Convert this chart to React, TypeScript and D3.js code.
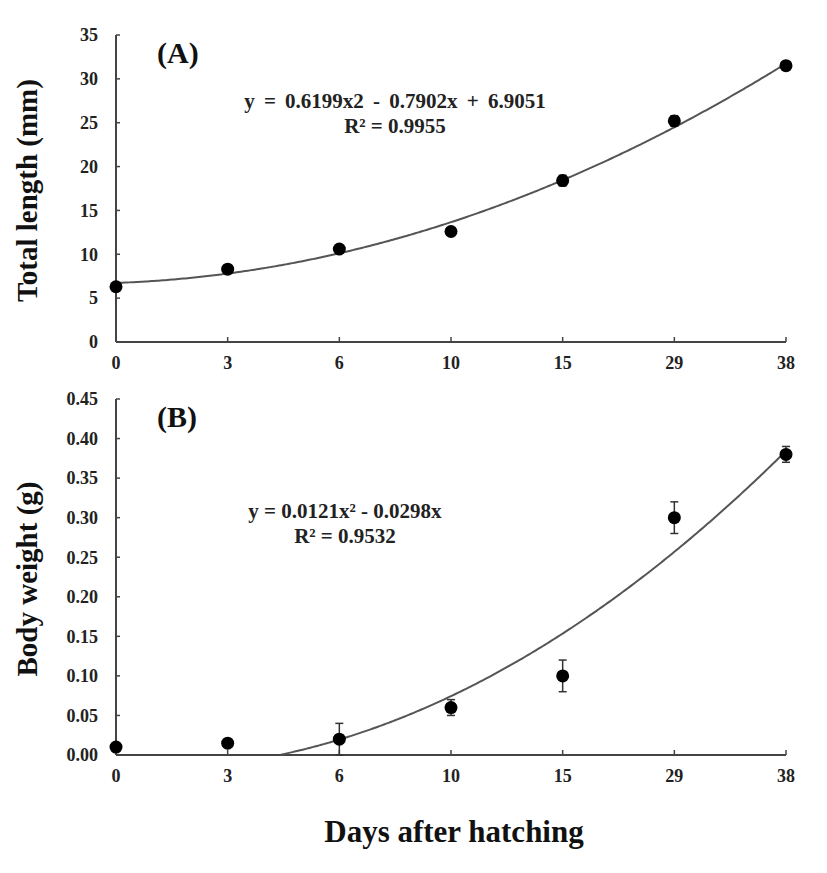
import React from "react";
import * as d3 from "d3";

const days = ["0", "3", "6", "10", "15", "29", "38"];
const lengthMean = [6.3, 8.3, 10.6, 12.6, 18.4, 25.2, 31.5];
const lengthErr = [0.2, 0.2, 0.3, 0.3, 0.6, 0.6, 0.3];
const weightMean = [0.01, 0.015, 0.02, 0.06, 0.1, 0.3, 0.38];
const weightErr = [0.002, 0.003, 0.02, 0.01, 0.02, 0.02, 0.01];
const lengthTicks = [0, 5, 10, 15, 20, 25, 30, 35];
const weightTicks = [0, 0.05, 0.1, 0.15, 0.2, 0.25, 0.3, 0.35, 0.4, 0.45];
const lengthFit = [0.6199, -0.7902, 6.9051];
const weightFit = [0.0121, -0.0298, 0];

const FONT = "'Liberation Serif', 'Times New Roman', serif";
const AXIS = "#444";

type PanelProps = {
  top: number;
  bottom: number;
  ymax: number;
  ticks: number[];
  fmt: (v: number) => string;
  means: number[];
  errs: number[];
  fit: number[];
  label: string;
  title: string;
  eq: string;
  r2: string;
  eqX: number;
  eqY: number;
  eqSpacing: number;
};

const X0 = 116;
const X1 = 786;

function Panel(p: PanelProps) {
  const x = d3.scalePoint<string>().domain(days).range([X0, X1]);
  const xi = d3.scaleLinear().domain([1, days.length]).range([X0, X1]);
  const y = d3.scaleLinear().domain([0, p.ymax]).range([p.bottom, p.top]);
  const f = (t: number) => p.fit[0] * t * t + p.fit[1] * t + p.fit[2];
  const pts = d3
    .range(1, days.length + 0.0001, 0.02)
    .map((t) => [t, f(t)] as [number, number])
    .filter((d) => d[1] >= 0);
  const line = d3
    .line<[number, number]>()
    .x((d) => xi(d[0]))
    .y((d) => y(d[1]));
  return (
    <g>
      <line x1={X0} x2={X0} y1={p.top} y2={p.bottom} stroke={AXIS} strokeWidth={2} />
      <line x1={X0} x2={X1} y1={p.bottom} y2={p.bottom} stroke={AXIS} strokeWidth={2} />
      {p.ticks.map((t) => (
        <g key={t}>
          <line x1={X0} x2={X0 + 4} y1={y(t)} y2={y(t)} stroke={AXIS} strokeWidth={1.5} />
          <text x={98} y={y(t)} dy="0.35em" textAnchor="end" fontFamily={FONT} fontWeight="bold" fontSize={18} fill="#222">
            {p.fmt(t)}
          </text>
        </g>
      ))}
      {days.map((d) => (
        <g key={d}>
          <line x1={x(d)} x2={x(d)} y1={p.bottom} y2={p.bottom - 5} stroke={AXIS} strokeWidth={1.5} />
          <text x={x(d)} y={p.bottom + 27} textAnchor="middle" fontFamily={FONT} fontWeight="bold" fontSize={18} fill="#222">
            {d}
          </text>
        </g>
      ))}
      <text
        transform={`translate(37,${(p.top + p.bottom) / 2 + 2}) rotate(-90)`}
        textAnchor="middle"
        fontFamily={FONT}
        fontWeight="bold"
        fontSize={29}
        fill="#111"
      >
        {p.title}
      </text>
      <text x={157} y={p.top + 28} fontFamily={FONT} fontWeight="bold" fontSize={30} fill="#111">
        {p.label}
      </text>
      <path d={line(pts) || ""} fill="none" stroke="#555" strokeWidth={2} />
      {days.map((d, i) => (
        <g key={d}>
          {p.errs[i] > 0 && (
            <g stroke="#333" strokeWidth={1.5}>
              <line x1={x(d)} x2={x(d)} y1={y(p.means[i] - p.errs[i])} y2={y(p.means[i] + p.errs[i])} />
              <line x1={x(d)! - 4} x2={x(d)! + 4} y1={y(p.means[i] - p.errs[i])} y2={y(p.means[i] - p.errs[i])} />
              <line x1={x(d)! - 4} x2={x(d)! + 4} y1={y(p.means[i] + p.errs[i])} y2={y(p.means[i] + p.errs[i])} />
            </g>
          )}
          <circle cx={x(d)} cy={y(p.means[i])} r={6.5} fill="#000" />
        </g>
      ))}
      <text
        x={p.eqX}
        y={p.eqY}
        textAnchor="middle"
        fontFamily={FONT}
        fontWeight="bold"
        fontSize={21}
        fill="#222"
        style={{ wordSpacing: `${p.eqSpacing}px` }}
      >
        {p.eq}
      </text>
      <text x={p.eqX} y={p.eqY + 25} textAnchor="middle" fontFamily={FONT} fontWeight="bold" fontSize={21} fill="#222">
        {p.r2}
      </text>
    </g>
  );
}

export default function App() {
  return (
    <svg width={827} height={873} style={{ display: "block", position: "absolute", left: 0, top: 0, background: "#fff" }}>
      <rect width={827} height={873} fill="#fff" />
      <Panel
        top={35}
        bottom={342}
        ymax={35}
        ticks={lengthTicks}
        fmt={(v) => String(v)}
        means={lengthMean}
        errs={lengthErr}
        fit={lengthFit}
        label="(A)"
        title="Total length (mm)"
        eq={"y = 0.6199x2 - 0.7902x + 6.9051"}
        r2={"R² = 0.9955"}
        eqX={395}
        eqY={108}
        eqSpacing={4}
      />
      <Panel
        top={399}
        bottom={755}
        ymax={0.45}
        ticks={weightTicks}
        fmt={(v) => v.toFixed(2)}
        means={weightMean}
        errs={weightErr}
        fit={weightFit}
        label="(B)"
        title="Body weight (g)"
        eq={"y = 0.0121x² - 0.0298x"}
        r2={"R² = 0.9532"}
        eqX={345}
        eqY={518}
        eqSpacing={0}
      />
      <text x={454} y={842} textAnchor="middle" fontFamily={FONT} fontWeight="bold" fontSize={31} fill="#111">
        Days after hatching
      </text>
    </svg>
  );
}
